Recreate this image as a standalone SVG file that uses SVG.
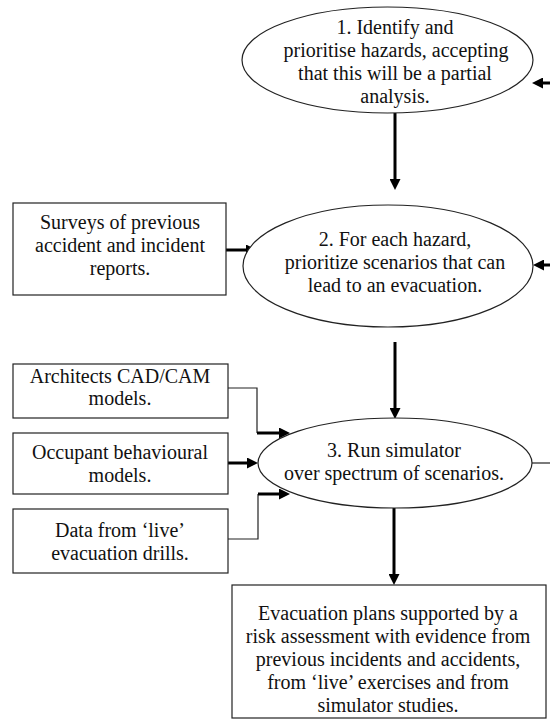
<svg xmlns="http://www.w3.org/2000/svg" width="550" height="720" viewBox="0 0 550 720">
<style>
text{font-family:"Liberation Serif","Times New Roman",serif;font-size:20px;fill:#111;text-anchor:middle}
.node{fill:#fff;stroke:#222;stroke-width:1.2}
.thick{fill:none;stroke:#000;stroke-width:3}
.thin{fill:none;stroke:#222;stroke-width:1.2}
</style>
<defs>
<marker id="ah" markerUnits="userSpaceOnUse" markerWidth="11" markerHeight="11" viewBox="0 0 11 11" refX="5" refY="5.5" orient="auto">
<path d="M0,0 L11,5.5 L0,11 z" fill="#000"/>
</marker>
</defs>
<rect width="550" height="720" fill="#fff"/>
<g id="connectors">
<line class="thick" x1="395" y1="113" x2="395" y2="184" marker-end="url(#ah)"/>
<line class="thick" x1="226" y1="250" x2="251" y2="250" marker-end="url(#ah)"/>
<line class="thick" x1="395" y1="342" x2="395" y2="413" marker-end="url(#ah)"/>
<line class="thick" x1="394" y1="508" x2="394" y2="579" marker-end="url(#ah)"/>
<polyline class="thin" points="228,388 257,388 257,433"/>
<line class="thick" x1="257" y1="433" x2="284" y2="433" marker-end="url(#ah)"/>
<line class="thick" x1="228" y1="463" x2="252" y2="463" marker-end="url(#ah)"/>
<polyline class="thin" points="228,539 258,539 258,494"/>
<line class="thick" x1="258" y1="494" x2="284" y2="494" marker-end="url(#ah)"/>
<line class="thick" x1="552" y1="83" x2="538" y2="83" marker-end="url(#ah)"/>
<line class="thick" x1="552" y1="265" x2="539" y2="265" marker-end="url(#ah)"/>
<line class="thin" x1="532" y1="463" x2="552" y2="463"/>
</g>
<g id="n1">
<ellipse class="node" cx="387.5" cy="60" rx="145.5" ry="53"/>
<text x="395" y="34">1. Identify and</text>
<text x="396" y="57">prioritise hazards, accepting</text>
<text x="395" y="80">that this will be a partial</text>
<text x="395" y="103">analysis.</text>
</g>
<g id="surveys">
<rect class="node" x="13" y="203" width="213" height="92"/>
<text x="120" y="229">Surveys of previous</text>
<text x="120" y="252">accident and incident</text>
<text x="120" y="275">reports.</text>
</g>
<g id="n2">
<ellipse class="node" cx="388" cy="266" rx="145" ry="61"/>
<text x="395" y="246">2. For each hazard,</text>
<text x="395" y="269">prioritize scenarios that can</text>
<text x="395" y="292">lead to an evacuation.</text>
</g>
<g id="architects">
<rect class="node" x="13" y="364" width="215" height="54"/>
<text x="120" y="383">Architects CAD/CAM</text>
<text x="120" y="405">models.</text>
</g>
<g id="occupant">
<rect class="node" x="13" y="433" width="215" height="61"/>
<text x="120" y="459">Occupant behavioural</text>
<text x="120" y="482">models.</text>
</g>
<g id="data">
<rect class="node" x="13" y="509" width="215" height="64"/>
<text x="120" y="537">Data from ‘live’</text>
<text x="120" y="560">evacuation drills.</text>
</g>
<g id="n3">
<ellipse class="node" cx="395" cy="463" rx="137" ry="45"/>
<text x="394" y="457">3. Run simulator</text>
<text x="394" y="480">over spectrum of scenarios.</text>
</g>
<g id="result">
<rect class="node" x="232" y="585" width="314" height="133"/>
<text x="388" y="620">Evacuation plans supported by a</text>
<text x="388" y="643">risk assessment with evidence from</text>
<text x="388" y="666">previous incidents and accidents,</text>
<text x="388" y="689">from ‘live’ exercises and from</text>
<text x="388" y="712">simulator studies.</text>
</g>
</svg>
